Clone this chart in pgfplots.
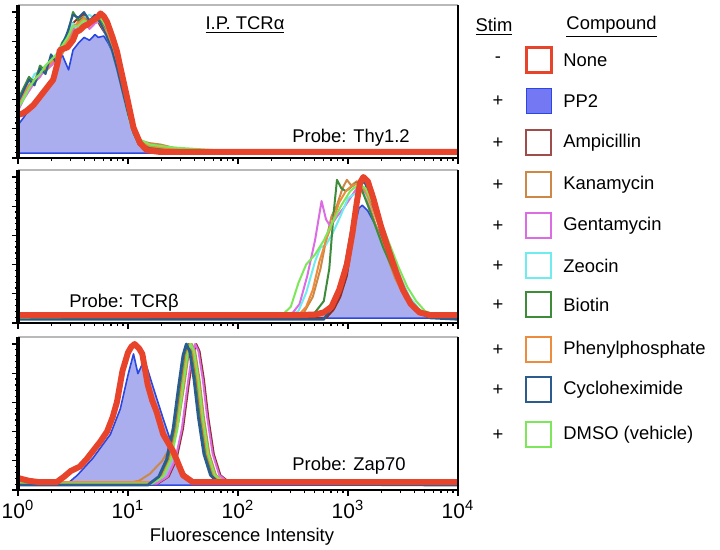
\documentclass[border=0pt]{standalone}
\usepackage{fontspec}
\setmainfont{Liberation Sans}
\usepackage{pgfplots}
\usepackage{pgfplotstable}
\pgfplotsset{compat=1.18}

\definecolor{cNone}{HTML}{E8442C}
\definecolor{cPPline}{HTML}{2A48E0}
\definecolor{cPPfill}{HTML}{AAAEEE}
\definecolor{cPPbox}{HTML}{7478F2}
\definecolor{cAmp}{HTML}{8E2E2A}
\definecolor{cKan}{HTML}{CC8844}
\definecolor{cGen}{HTML}{DC6CE4}
\definecolor{cZeo}{HTML}{6EECF0}
\definecolor{cBio}{HTML}{3E8C3A}
\definecolor{cPhe}{HTML}{EE8C3E}
\definecolor{cCyc}{HTML}{2C5C8E}
\definecolor{cDMSO}{HTML}{7EE65A}

% panel 1 (probe Thy1.2): x = log10(intensity), y = % of max
\pgfplotstableread{
x    amp kan gen zeo bio phe cyc dmso
0    32  36  30  34  38  34  36  32
0.05 40  44  38  40  46  42  44  38
0.1  48  46  44  48  54  48  52  46
0.15 52  50  50  56  50  52  48  52
0.2  55  56  54  58  62  58  60  56
0.25 60  58  60  62  58  60  56  62
0.3  64  62  62  66  68  64  70  66
0.35 68  66  66  70  64  68  64  70
0.4  72  70  74  78  78  74  76  76
0.45 82  78  80  84  84  80  86  82
0.5  92  86  88  92  100 90  98  90
0.55 96  94  90  86  94  92  96  90
0.6  98  97  94  96  96  96  100 94
0.65 94  92  88  98  92  90  94  92
0.7  97  95  92  95  98  96  98  94
0.75 90  93  94  92  94  92  92  96
0.8  84  86  88  84  86  86  84  90
0.85 74  76  78  74  78  76  74  80
0.9  60  63  64  60  66  64  60  68
0.95 44  47  46  44  48  46  44  50
1.0  27  30  28  26  30  28  28  33
1.05 14  18  14  13  16  16  14  20
1.1  6   9   6   6   7   8   6   10
1.2  3   7   3   3   4   5   3   6
1.3  2   6   2   2   3   4   2   5
1.4  1   4   1   1   2   3   1   4
1.6  0.5 2   0.5 0.5 1   2   0.5 3
2.0  0.3 0.8 0.3 0.3 0.5 0.8 0.3 1
4.0  0.3 0.5 0.3 0.3 0.5 0.5 0.3 0.5
}\thyOthers

\pgfplotsset{
  panel/.style={
    scale only axis, width=220pt, height=76.5pt, anchor=south west,
    xmin=0, xmax=4, ymin=-3.5, ymax=105,
    axis line style={draw=none},
    tick align=outside, xtick pos=left, ytick pos=left,
    xtick={0,1,2,3,4},
    minor xtick={0.301,0.477,0.602,0.699,0.778,0.845,0.903,0.954,
      1.301,1.477,1.602,1.699,1.778,1.845,1.903,1.954,
      2.301,2.477,2.602,2.699,2.778,2.845,2.903,2.954,
      3.301,3.477,3.602,3.699,3.778,3.845,3.903,3.954},
    ytick={-3.5,17.2,37.9,58.6,79.3,100}, minor y tick num=4,
    yticklabels={}, xticklabels={},
    major tick length=3pt, minor tick length=1.6pt,
    tick style={black, line width=0.6pt},
  },
  cur/.style={line width=1pt, line join=round},
  none/.style={cNone, line width=3pt, line join=round},
  pp/.style={draw=cPPline, line width=0.8pt, fill=cPPfill, line join=round},
}
\newcommand{\frameit}[1]{%
  \draw[gray!55, line width=1pt] (#1.north west) -- (#1.north east);
  \draw[black, line width=0.6pt] (#1.south east) -- (#1.north east);
  \draw[black, line width=0.9pt] (#1.south west) -- (#1.south east);
  \draw[black, line width=1.6pt] (#1.south west) -- (#1.north west);
}
\newcommand{\legrow}[4]{% y, sign, box style, text
  \node at (249pt,#1) {#2};
  \draw[#3] (263.25pt,#1-6.25pt) rectangle (275.75pt,#1+6.25pt);
  \node[anchor=west] at (281.5pt,#1) {#4};
}

\begin{document}
\begin{tikzpicture}
\useasboundingbox (0,0) rectangle (360pt,275pt);

% ---------------- panel 1: Thy1.2 ----------------
\begin{axis}[panel, name=p1, at={(9pt,196pt)}]
\addplot[pp] coordinates {(0,20) (0.05,25) (0.1,31) (0.15,35) (0.2,40) (0.25,45)
  (0.3,50) (0.35,60) (0.4,70) (0.46,59) (0.5,73) (0.55,78) (0.6,82) (0.65,80)
  (0.7,84) (0.73,82) (0.78,83) (0.82,78) (0.87,70) (0.93,55) (1.0,35) (1.05,18)
  (1.12,7) (1.2,2) (1.4,0.5) (4,0.3)} \closedcycle;
\addplot[cur, cAmp] table[x=x, y=amp] {\thyOthers};
\addplot[cur, cKan] table[x=x, y=kan] {\thyOthers};
\addplot[cur, cGen] table[x=x, y=gen] {\thyOthers};
\addplot[cur, cZeo] table[x=x, y=zeo] {\thyOthers};
\addplot[cur, cBio] table[x=x, y=bio] {\thyOthers};
\addplot[cur, cPhe] table[x=x, y=phe] {\thyOthers};
\addplot[cur, cCyc] table[x=x, y=cyc] {\thyOthers};
\addplot[cur, cDMSO] table[x=x, y=dmso] {\thyOthers};
\addplot[none] coordinates {(0,27) (0.04,28) (0.08,30) (0.14,34) (0.2,40) (0.26,46)
  (0.32,52) (0.36,64) (0.38,73) (0.45,75) (0.5,80) (0.53,86) (0.56,87) (0.6,90)
  (0.63,91) (0.68,94) (0.72,96) (0.75,99) (0.78,97) (0.81,93) (0.86,82) (0.9,72)
  (0.93,61) (0.99,40) (1.05,18) (1.11,7) (1.17,2) (1.29,0.8) (2,0.8) (4,0.8)};
\end{axis}
\frameit{p1}

% ---------------- panel 2: TCRbeta ----------------
\begin{axis}[panel, name=p2, at={(9pt,113.5pt)}]
\addplot[pp] coordinates {(0,1) (2.6,1) (2.75,2) (2.85,8) (2.92,20) (3.0,42) (3.06,65)
  (3.1,78) (3.13,80) (3.18,76) (3.25,66) (3.32,55) (3.4,40) (3.48,26) (3.56,14)
  (3.63,6) (3.72,2) (4,1)} \closedcycle;
\addplot[cur, cAmp] coordinates {(0,0) (2.8,0) (2.87,6) (2.93,15) (2.99,30) (3.04,55)
  (3.08,78) (3.12,95) (3.15,100) (3.19,92) (3.25,75) (3.32,55) (3.4,38) (3.48,22)
  (3.56,10) (3.64,4) (3.72,1) (4,0.5)};
\addplot[cur, cKan] coordinates {(0,0.5) (2.5,1) (2.6,4) (2.68,15) (2.75,35) (2.8,55)
  (2.85,72) (2.9,80) (2.95,92) (2.99,98) (3.03,94) (3.08,97) (3.14,90) (3.2,78)
  (3.27,62) (3.35,45) (3.43,28) (3.52,14) (3.6,6) (3.7,2) (4,1)};
\addplot[cur, cGen] coordinates {(0,0.5) (2.4,1) (2.5,4) (2.56,10) (2.63,30) (2.7,55)
  (2.76,83) (2.8,70) (2.84,65) (2.9,72) (2.96,78) (3.02,85) (3.08,92) (3.12,94)
  (3.18,85) (3.25,72) (3.32,64) (3.4,45) (3.48,28) (3.56,14) (3.65,5) (3.75,2) (4,1)};
\addplot[cur, cZeo] coordinates {(0,0.5) (2.45,1) (2.55,5) (2.62,18) (2.7,40) (2.75,50)
  (2.8,52) (2.86,60) (2.93,72) (3.0,85) (3.06,88) (3.12,90) (3.18,85) (3.25,72)
  (3.32,58) (3.4,42) (3.48,28) (3.56,15) (3.65,6) (3.75,2) (4,1)};
\addplot[cur, cBio] coordinates {(0,0) (2.6,1) (2.7,4) (2.78,12) (2.83,35) (2.87,75)
  (2.9,98) (2.94,92) (2.98,90) (3.03,93) (3.08,96) (3.12,92) (3.18,80) (3.25,65)
  (3.32,50) (3.4,36) (3.48,22) (3.56,10) (3.65,4) (3.75,1) (4,0.5)};
\addplot[cur, cPhe] coordinates {(0,0.5) (2.55,2) (2.62,8) (2.68,20) (2.74,40) (2.8,55)
  (2.86,68) (2.92,82) (2.98,90) (3.04,94) (3.1,96) (3.16,90) (3.22,78) (3.3,62)
  (3.38,45) (3.46,30) (3.54,16) (3.62,7) (3.7,2) (4,1)};
\addplot[cur, cCyc, line width=1.2pt] coordinates {(0,-1) (2.78,-1) (2.85,8) (2.92,20)
  (2.98,40) (3.03,62) (3.08,85) (3.12,98) (3.16,95) (3.22,82) (3.28,68) (3.35,52)
  (3.42,36) (3.5,22) (3.58,10) (3.66,4) (3.75,0) (4,-1)};
\addplot[cur, cDMSO] coordinates {(0,0.5) (2.4,2) (2.48,8) (2.55,25) (2.62,38) (2.7,45)
  (2.78,55) (2.86,68) (2.94,80) (3.02,90) (3.1,95) (3.16,92) (3.22,82) (3.3,68)
  (3.38,52) (3.46,36) (3.54,22) (3.62,12) (3.7,5) (3.8,2) (4,1)};
\addplot[none] coordinates {(0,2) (2.5,2) (2.7,2.5) (2.78,4) (2.85,8) (2.92,20)
  (2.99,38) (3.04,60) (3.08,82) (3.11,96) (3.14,100) (3.18,97) (3.23,85) (3.3,65)
  (3.37,48) (3.44,32) (3.5,20) (3.57,10) (3.65,4) (3.75,2) (4,2)};
\end{axis}
\frameit{p2}

% ---------------- panel 3: Zap70 ----------------
\begin{axis}[panel, name=p3, at={(9pt,30pt)},
  xticklabels={10\textsuperscript{0},10\textsuperscript{1},10\textsuperscript{2},10\textsuperscript{3},10\textsuperscript{4}},
  xticklabel style={font=\fontsize{10.5}{12}\selectfont, yshift=1.5pt}]
\addplot[pp] coordinates {(0,0.5) (0.45,1) (0.54,7) (0.68,19) (0.84,36) (0.93,54)
  (1.0,78) (1.05,93) (1.09,79) (1.15,89) (1.23,69) (1.32,47) (1.41,26) (1.49,11)
  (1.57,2) (1.7,0.5) (4,0.5)} \closedcycle;
\addplot[cur, cAmp] coordinates {(0,1) (1.27,1) (1.37,6) (1.44,18) (1.5,40) (1.55,70)
  (1.59,92) (1.62,100) (1.65,95) (1.69,75) (1.73,48) (1.78,22) (1.84,7) (1.92,2) (4,1)};
\addplot[cur, cKan] coordinates {(0,1.5) (1.0,1.5) (1.1,3) (1.2,8) (1.26,13) (1.31,17)
  (1.37,25) (1.46,45) (1.51,70) (1.55,92) (1.58,100) (1.61,95) (1.65,75) (1.69,48)
  (1.74,22) (1.8,7) (1.88,2) (4,1.5)};
\addplot[cur, cGen] coordinates {(0,1) (1.26,1) (1.36,6) (1.43,18) (1.49,40) (1.54,70)
  (1.58,92) (1.61,100) (1.64,95) (1.68,75) (1.72,48) (1.77,22) (1.83,7) (1.91,2) (4,1)};
\addplot[cur, cZeo] coordinates {(0,0.5) (1.19,0.5) (1.29,6) (1.36,18) (1.42,40)
  (1.47,70) (1.51,92) (1.54,100) (1.57,95) (1.61,75) (1.65,48) (1.7,22) (1.76,7)
  (1.84,2) (4,0.5)};
\addplot[cur, cBio] coordinates {(0,1.5) (1.2,1.5) (1.3,6) (1.37,18) (1.43,40) (1.48,70)
  (1.52,92) (1.55,100) (1.58,95) (1.62,75) (1.66,48) (1.71,22) (1.77,7) (1.85,2) (4,1.5)};
\addplot[cur, cPhe] coordinates {(0,2) (1.21,2) (1.31,6) (1.38,18) (1.44,40) (1.49,70)
  (1.53,92) (1.56,100) (1.59,95) (1.63,75) (1.67,48) (1.72,22) (1.78,7) (1.86,2) (4,2)};
\addplot[cur, cDMSO] coordinates {(0,1) (1.22,1) (1.32,6) (1.39,18) (1.45,40) (1.5,70)
  (1.54,92) (1.57,100) (1.6,95) (1.64,75) (1.68,48) (1.73,22) (1.79,7) (1.87,2) (4,1)};
\addplot[cur, cCyc, line width=1.4pt] coordinates {(0,0) (1.18,0) (1.28,6) (1.35,18)
  (1.41,40) (1.46,70) (1.5,92) (1.53,100) (1.56,95) (1.6,75) (1.64,48) (1.69,22)
  (1.75,7) (1.83,1) (4,0)};
\addplot[none] coordinates {(0,5) (0.1,3) (0.2,2) (0.35,2) (0.42,6) (0.48,10) (0.56,13)
  (0.62,18) (0.68,24) (0.75,31) (0.81,38) (0.86,48) (0.9,59) (0.95,81) (1.0,94)
  (1.03,98) (1.06,100) (1.1,97) (1.13,93) (1.18,71) (1.22,60) (1.26,52) (1.32,36)
  (1.41,24) (1.5,7) (1.59,2) (1.7,2) (4,2)};
\end{axis}
\frameit{p3}

% ---------------- panel texts ----------------
\begin{scope}[every node/.style={font=\fontsize{9.2}{11}\selectfont, inner sep=0pt}]
\node at (122.5pt,262.5pt) {\underline{I.P. TCRα}};
\node at (175.5pt,206pt) {Probe: Thy1.2};
\node at (62pt,123.5pt) {Probe: TCRβ};
\node at (174.5pt,42pt) {Probe: Zap70};
\node at (121pt,6.5pt) {Fluorescence Intensity};

% ---------------- legend ----------------
\node at (247pt,261.5pt) {\underline{Stim}};
\node at (305.75pt,261.5pt) {\underline{Compound}};
\legrow{245pt}{-}{cNone, line width=1.5pt}{None}
\legrow{224.5pt}{+}{cPPline, line width=0.9pt, fill=cPPbox}{PP2}
\legrow{203.5pt}{+}{cAmp!85!white, line width=1pt}{Ampicillin}
\legrow{182.5pt}{+}{cKan, line width=1pt}{Kanamycin}
\legrow{162pt}{+}{cGen, line width=1pt}{Gentamycin}
\legrow{142pt}{+}{cZeo, line width=1pt}{Zeocin}
\legrow{122.5pt}{+}{cBio, line width=1pt}{Biotin}
\legrow{100pt}{+}{cPhe, line width=1pt}{Phenylphosphate}
\legrow{80pt}{+}{cCyc, line width=1pt}{Cycloheximide}
\legrow{57.5pt}{+}{cDMSO, line width=1pt}{DMSO (vehicle)}
\end{scope}
\end{tikzpicture}
\end{document}
